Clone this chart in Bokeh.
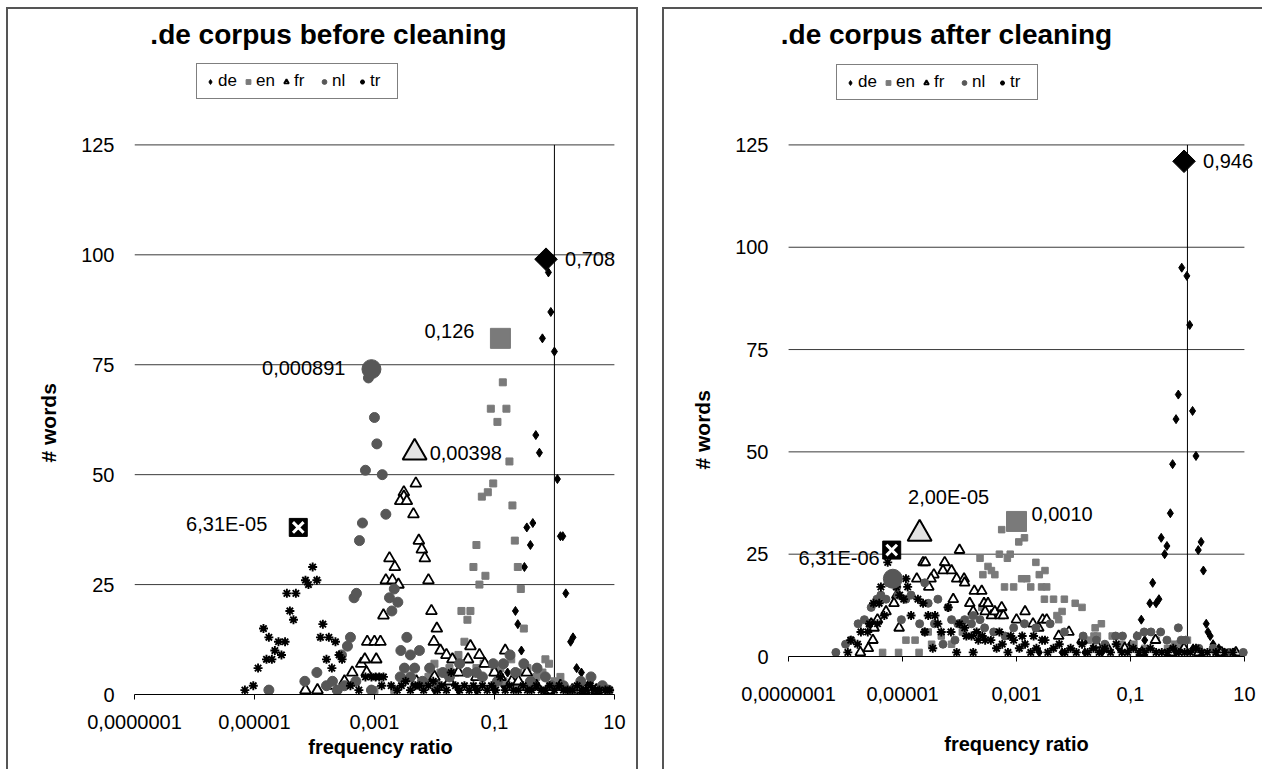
import numpy as np
from bokeh.plotting import figure
from bokeh.models import Legend, LegendItem, Label, FixedTicker, Range1d, Title
from bokeh.layouts import row
from bokeh.embed import file_html
from bokeh.resources import INLINE

FONT = "Liberation Sans"

# ---- data: (log10 of frequency ratio, # words) ----
# .de corpus before cleaning
de_before = [(-0.10, 96), (-0.06, 87), (-0.20, 81), (0.00, 78), (-0.31, 59), (-0.25, 55), (0.05, 49),
             (-0.46, 38), (-0.36, 39), (-0.40, 34), (-0.50, 29), (0.10, 36), (0.14, 36), (0.19, 23),
             (-0.65, 19), (-0.61, 16), (0.27, 12), (0.31, 13), (0.37, 6), (0.45, 5), (-0.55, 10),
             (-0.72, 3), (-0.85, 2), (0.55, 2), (0.65, 1), (0.75, 1), (-1.00, 1), (-1.30, 1), (-1.60, 1),
             (-2.00, 1), (0.85, 1), (0.60, 3), (-0.78, 5)]
en_before = [(-0.86, 71), (-1.06, 65), (-0.80, 65), (-0.95, 62), (-0.75, 53), (-1.02, 48), (-1.11, 46),
             (-1.21, 45), (-0.70, 43), (-1.30, 34), (-0.66, 35), (-1.35, 29), (-0.61, 29), (-1.15, 27),
             (-1.25, 25), (-0.56, 24), (-1.55, 19), (-1.40, 19), (-1.45, 17), (-0.51, 15), (-1.50, 12),
             (-1.60, 9), (-2.00, 7), (-0.09, 7), (-3.00, 1), (-2.67, 1), (-2.30, 2), (-2.10, 4), (-1.90, 5),
             (-1.75, 6), (-1.65, 5), (-1.30, 6), (-1.18, 7), (-1.00, 5), (-0.90, 6), (-0.72, 8), (-0.60, 5),
             (-0.45, 6), (-0.30, 4), (-0.15, 8), (0.00, 3), (0.15, 2), (0.30, 1), (0.50, 1), (0.70, 1),
             (-0.85, 3), (-0.40, 2), (-0.20, 5), (0.10, 4)]
fr_before = [(-4.15, 1), (-3.95, 1), (-3.70, 2), (-3.50, 3), (-3.37, 5), (-3.22, 7), (-3.13, 5), (-3.16, 8),
             (-2.97, 8), (-3.12, 12), (-3.00, 12), (-2.90, 12), (-2.85, 18), (-2.81, 26), (-2.70, 26),
             (-2.60, 25), (-2.75, 31), (-2.66, 29), (-2.51, 46), (-2.51, 45), (-2.57, 44), (-2.46, 44),
             (-2.31, 48), (-2.35, 41), (-2.26, 35), (-2.21, 33), (-2.16, 31), (-2.10, 26), (-2.05, 19),
             (-1.96, 15), (-2.01, 12), (-1.90, 10), (-1.80, 9), (-1.70, 8), (-1.44, 8), (-1.40, 11),
             (-1.25, 9), (-1.16, 7), (-0.82, 10), (-0.46, 5), (-0.71, 3), (-1.60, 5), (-1.30, 4), (-1.00, 5),
             (-0.90, 4), (-0.60, 3), (-0.30, 2), (-0.10, 1), (0.10, 2), (0.30, 1), (0.50, 1), (0.70, 1),
             (-2.30, 3), (-2.00, 4), (-1.75, 3)]
nl_before = [(-4.76, 1), (-4.16, 3), (-3.96, 5), (-3.80, 2), (-3.70, 3), (-3.62, 1), (-3.55, 9), (-3.45, 11),
             (-3.40, 13), (-3.34, 22), (-3.30, 23), (-3.31, 3), (-3.25, 35), (-3.20, 39), (-3.15, 51),
             (-3.10, 72), (-3.00, 63), (-2.96, 57), (-2.87, 50), (-2.81, 41), (-2.67, 24), (-2.75, 22),
             (-2.61, 21), (-2.71, 19), (-2.46, 13), (-2.56, 10), (-2.25, 10), (-2.40, 9), (-2.50, 6),
             (-2.33, 6), (-2.57, 4), (-2.40, 4), (-2.08, 6), (-1.86, 5), (-1.58, 7), (-1.30, 5), (-1.02, 7),
             (-0.85, 7), (-0.74, 9), (-0.51, 7), (-0.29, 6), (-0.15, 4), (0.44, 3), (0.61, 4), (-1.75, 4),
             (-1.45, 5), (-1.20, 4), (-0.95, 3), (-0.65, 5), (-0.40, 3), (-0.05, 2), (0.15, 2), (0.30, 1),
             (0.80, 2), (0.90, 1), (-2.20, 3), (-1.95, 2), (-3.05, 1), (-3.50, 2)]
tr_before = [(-5.16, 1), (-5.02, 2), (-4.94, 6), (-4.85, 15), (-4.80, 8), (-4.76, 13), (-4.71, 8), (-4.66, 10),
             (-4.60, 12), (-4.55, 9), (-4.49, 12), (-4.46, 23), (-4.41, 19), (-4.35, 17), (-4.31, 23),
             (-4.15, 26), (-4.10, 25), (-4.03, 29), (-3.96, 26), (-3.90, 13), (-3.86, 16), (-3.80, 8),
             (-3.76, 13), (-3.71, 6), (-3.65, 12), (-3.59, 9), (-3.54, 8), (-3.40, 2), (-3.26, 1), (-3.15, 4),
             (-3.05, 4), (-2.98, 4), (-2.92, 4), (-2.85, 4), (-2.88, 2), (-2.72, 2), (-2.62, 1), (-2.55, 2),
             (-2.48, 3), (-2.40, 1), (-2.32, 2), (-2.25, 2), (-2.18, 1), (-2.10, 2), (-2.02, 3), (-1.95, 1),
             (-1.88, 2), (-1.80, 1), (-1.72, 5), (-1.65, 2), (-1.58, 1), (-1.50, 2), (-1.42, 1), (-1.35, 2),
             (-1.28, 1), (-1.20, 2), (-1.12, 1), (-1.05, 2), (-0.98, 1), (-0.90, 4), (-0.82, 1), (-0.75, 2),
             (-0.68, 1), (-0.60, 1), (-0.52, 2), (-0.45, 1), (-0.38, 1), (-0.30, 2), (-0.22, 1), (-0.15, 1),
             (-0.08, 2), (0.00, 1), (0.08, 2), (0.15, 1), (0.22, 1), (0.30, 1), (0.38, 2), (0.45, 1),
             (0.52, 1), (0.60, 2), (0.68, 1), (0.75, 1), (0.85, 1), (0.92, 1)]
# highlighted maxima (log10 ratio, # words, data label)
peaks_before = {"de": (-0.14, 99, "0,708"), "en": (-0.90, 81, "0,126"), "fr": (-2.33, 55, "0,00398"),
                "nl": (-3.05, 74, "0,000891"), "tr": (-4.27, 38, "6,31E-05")}

# .de corpus after cleaning
de_after = [(-0.10, 95), (-0.01, 93), (0.04, 81), (-0.16, 64), (0.09, 60), (-0.20, 58), (0.15, 49), (-0.26, 47),
            (-0.30, 35), (-0.46, 29), (0.24, 28), (-0.36, 27), (0.19, 26), (-0.40, 25), (0.28, 21), (-0.61, 18),
            (-0.66, 13), (-0.55, 13), (-0.50, 14), (-0.81, 9), (0.33, 8), (0.36, 6), (0.40, 5), (0.45, 3),
            (0.55, 2), (0.65, 1), (0.80, 1), (-0.90, 5), (-1.00, 3), (-1.20, 2), (-1.50, 1), (-1.80, 1),
            (-2.20, 1), (-2.60, 1), (-0.75, 4), (0.10, 2), (-0.20, 1)]
en_after = [(-5.35, 1), (-5.07, 1), (-4.71, 1), (-4.94, 4), (-4.78, 4), (-4.55, 6), (-4.49, 3), (-4.32, 5),
            (-4.14, 3), (-3.95, 6), (-3.79, 10), (-3.64, 24), (-3.61, 12), (-3.59, 20), (-3.50, 22), (-3.44, 21),
            (-3.38, 20), (-3.30, 25), (-3.26, 31), (-3.21, 17), (-3.16, 24), (-3.11, 25), (-3.05, 17),
            (-2.96, 28), (-2.86, 29), (-2.91, 19), (-2.82, 19), (-2.75, 17), (-2.66, 23), (-2.60, 20),
            (-2.56, 17), (-2.50, 21), (-2.47, 17), (-2.51, 14), (-2.35, 14), (-2.16, 14), (-2.20, 11),
            (-2.29, 10), (-2.26, 9), (-1.97, 13), (-1.85, 12), (-1.74, 4), (-1.64, 5), (-1.58, 5), (-1.51, 8),
            (-1.62, 7), (-1.32, 5), (-1.15, 3), (-0.94, 3), (-0.75, 2), (-0.55, 4), (-0.35, 2), (-0.23, 3),
            (-0.14, 3), (-0.06, 4), (0.00, 4), (0.20, 1), (0.50, 1), (0.80, 1)]
fr_after = [(-5.74, 1), (-5.60, 2), (-5.52, 4), (-5.55, 8), (-5.50, 7), (-5.44, 9), (-5.29, 11), (-5.15, 13),
            (-5.10, 15), (-5.06, 7), (-4.75, 19), (-4.64, 23), (-4.60, 23), (-4.54, 17), (-4.45, 20),
            (-4.50, 19), (-4.26, 23), (-4.29, 21), (-4.14, 21), (-4.11, 14), (-4.05, 19), (-4.00, 26),
            (-3.92, 19), (-3.91, 18), (-3.82, 13), (-3.76, 11), (-3.74, 16), (-3.61, 16), (-3.57, 13),
            (-3.55, 11), (-3.50, 13), (-3.44, 10), (-3.38, 11), (-3.29, 10), (-3.26, 12), (-3.23, 10),
            (-3.00, 9), (-2.85, 11), (-2.71, 8), (-2.61, 7), (-2.54, 9), (-2.47, 9), (-2.26, 5), (-2.08, 6),
            (-1.85, 4), (-1.60, 3), (-1.40, 2), (-1.10, 2), (-0.80, 1), (-0.56, 4), (-0.30, 1), (-0.06, 2),
            (0.20, 1), (0.60, 1), (0.85, 1)]
nl_after = [(-6.17, 1), (-6.00, 3), (-5.90, 4), (-5.78, 8), (-5.67, 9), (-5.55, 12), (-5.45, 14), (-5.38, 15),
            (-5.29, 14), (-5.08, 15), (-4.94, 14), (-4.85, 15), (-5.02, 9), (-4.70, 8), (-4.61, 18), (-4.61, 6),
            (-4.55, 13), (-4.44, 8), (-4.38, 14), (-4.29, 3), (-4.20, 12), (-4.14, 9), (-4.08, 4), (-4.03, 8),
            (-3.91, 9), (-3.79, 8), (-3.76, 10), (-3.64, 9), (-3.56, 7), (-3.40, 6), (-3.20, 5), (-3.05, 7),
            (-2.86, 8), (-2.66, 7), (-2.41, 8), (-2.16, 6), (-1.83, 5), (-1.60, 4), (-1.45, 3), (-1.26, 5),
            (-1.14, 5), (-0.88, 5), (-0.76, 6), (-0.64, 6), (-0.47, 6), (-0.16, 7), (-0.11, 4), (-0.03, 4),
            (-0.36, 4), (0.20, 2), (0.45, 2), (0.73, 1), (0.98, 1), (-5.25, 18), (-5.10, 17)]
tr_after = [(-5.96, 1), (-5.91, 4), (-5.79, 3), (-5.73, 6), (-5.61, 6), (-5.58, 8), (-5.51, 13), (-5.44, 8),
            (-5.41, 13), (-5.38, 17), (-5.32, 10), (-5.26, 23), (-5.20, 19), (-5.11, 17), (-5.05, 15),
            (-4.98, 14), (-4.94, 19), (-4.91, 17), (-4.85, 10), (-4.73, 14), (-4.64, 13), (-4.61, 6),
            (-4.55, 10), (-4.47, 2), (-4.43, 10), (-4.38, 8), (-4.32, 6), (-4.20, 12), (-4.15, 6), (-4.05, 1),
            (-4.00, 8), (-3.91, 7), (-3.88, 5), (-3.79, 5), (-3.76, 1), (-3.70, 6), (-3.67, 4), (-3.60, 5),
            (-3.55, 4), (-3.45, 4), (-3.35, 2), (-3.30, 6), (-3.25, 3), (-3.15, 1), (-3.10, 5), (-3.05, 4),
            (-2.95, 2), (-2.90, 5), (-2.85, 3), (-2.75, 1), (-2.70, 5), (-2.65, 2), (-2.55, 4), (-2.50, 4),
            (-2.45, 1), (-2.35, 2), (-2.25, 3), (-2.15, 1), (-2.05, 2), (-1.95, 1), (-1.85, 3), (-1.75, 1),
            (-1.65, 2), (-1.55, 1), (-1.45, 2), (-1.35, 1), (-1.25, 3), (-1.15, 1), (-1.05, 1), (-0.95, 2),
            (-0.85, 1), (-0.75, 1), (-0.65, 2), (-0.55, 1), (-0.45, 1), (-0.35, 1), (-0.25, 2), (-0.15, 1),
            (-0.05, 1), (0.05, 1), (0.15, 2), (0.25, 1), (0.35, 1), (0.50, 1), (0.65, 1), (0.80, 1)]
peaks_after = {"de": (-0.06, 121, "0,946"), "en": (-3.00, 33, "0,0010"), "fr": (-4.70, 30, "2,00E-05"),
               "nl": (-5.17, 19, None), "tr": (-5.19, 26, "6,31E-06")}

y_ticks = [0, 25, 50, 75, 100, 125]
x_ticks = [1e-7, 1e-5, 1e-3, 0.1, 10]
x_tick_labels = ["0,0000001", "0,00001", "0,001", "0,1", "10"]
y_axis_crosses_at = 1  # vertical axis line position (frequency ratio)

DE_C, EN_C, NL_C = "#000000", "#7a7a7a", "#575757"


def xy(pairs):
    return [10 ** a for a, _ in pairs], [b for _, b in pairs]


def panel(title, data, peaks, cfg):
    # plot area of the reference (0..125, 1e-7..10) plus extra room above / left / right for texts
    fw, fh = cfg["fw"], cfg["fh"]
    top_px, left_px, right_px = cfg["top_px"], cfg["left_px"], cfg["right_px"]
    y_end = y_ticks[-1] + top_px * (y_ticks[-1] - y_ticks[0]) / fh
    dec = np.log10(x_ticks[-1]) - np.log10(x_ticks[0])
    x_end = x_ticks[-1] * 10 ** (right_px * dec / fw)
    x_start = x_ticks[0] / 10 ** (left_px * dec / fw)
    p = figure(x_axis_type="log", x_range=Range1d(x_start, x_end), y_range=Range1d(y_ticks[0], y_end),
               frame_width=fw + left_px + right_px, frame_height=fh + top_px,
               min_border_left=cfg["mbl"] - left_px, min_border_right=cfg["mbr"], min_border_top=0,
               min_border_bottom=cfg["mbb"], output_backend="svg", toolbar_location=None,
               background_fill_color="white", border_fill_color="white")
    p.outline_line_color = None
    p.xgrid.grid_line_color = None
    p.ygrid.grid_line_color = None

    # horizontal gridlines limited to the axis extent
    gy = y_ticks[1:]
    p.multi_line(xs=[[x_ticks[0], x_ticks[-1]] for _ in gy], ys=[[v, v] for v in gy],
                 line_color="#3a3a3a", line_width=1)
    # vertical axis line (crossing point of the value axis)
    p.segment(x0=[y_axis_crosses_at], y0=[y_ticks[0]], x1=[y_axis_crosses_at], y1=[y_ticks[-1]],
              line_color="black", line_width=1)

    xa = p.xaxis[0]
    xa.bounds = (x_ticks[0], x_ticks[-1])
    xa.ticker = FixedTicker(ticks=x_ticks)
    xa.major_label_overrides = {t: l for t, l in zip(x_ticks, x_tick_labels)}
    xa.axis_line_color = "black"
    xa.major_tick_line_color = "black"
    xa.major_tick_out = 5
    xa.major_tick_in = 0
    xa.minor_tick_line_color = None
    xa.major_label_standoff = cfg["xstand"]
    xa.major_label_text_font = FONT
    xa.major_label_text_font_size = "20px"
    xa.major_label_text_color = "black"
    xa.axis_label = "frequency ratio"
    xa.axis_label_text_font = FONT
    xa.axis_label_text_font_style = "bold"
    xa.axis_label_text_font_size = "20px"
    xa.axis_label_text_color = "black"
    xa.axis_label_standoff = cfg["xlab_stand"]

    ya = p.yaxis[0]
    ya.bounds = (y_ticks[0], y_ticks[-1])
    ya.ticker = FixedTicker(ticks=y_ticks)
    ya.axis_line_color = None
    ya.major_tick_line_color = None
    ya.major_tick_out = 0
    ya.major_tick_in = 0
    ya.minor_tick_line_color = None
    ya.minor_tick_out = 0
    ya.major_label_standoff = 20 - left_px
    ya.major_label_text_font = FONT
    ya.major_label_text_font_size = "20px"
    ya.major_label_text_color = "black"

    # value-axis title, placed beside the 0..125 part of the axis
    p.add_layout(Title(text="# words", align="left", offset=cfg["ylab_off"], vertical_align="bottom",
                       standoff=38, text_font=FONT, text_font_size="21px", text_font_style="bold",
                       text_color="black"), "left")

    x, y = xy(data["de"])
    r_de = p.scatter(x, y, marker="diamond", size=9, color=DE_C)
    x, y = xy(data["en"])
    r_en = p.scatter(x, y, marker="square", size=cfg["en_s"], color=EN_C)
    x, y = xy(data["fr"])
    r_fr = p.scatter(x, y, marker="triangle", size=cfg["fr_s"], fill_color="white",
                     line_color="black", line_width=1.8)
    x, y = xy(data["nl"])
    r_nl = p.scatter(x, y, marker="circle", size=cfg["nl_s"], color=NL_C)
    x, y = xy(data["tr"])
    r_tr = p.scatter(x, y, marker="asterisk", size=9, line_color="black", line_width=1.9)

    # highlighted maxima
    pk = peaks
    p.scatter([10 ** pk["de"][0]], [pk["de"][1]], marker="square", angle=np.pi / 4, size=16, color=DE_C)
    p.scatter([10 ** pk["en"][0]], [pk["en"][1]], marker="square", size=20, color=EN_C)
    p.scatter([10 ** pk["fr"][0]], [pk["fr"][1]], marker="triangle", size=24, fill_color="#e3e3e3",
              line_color="black", line_width=2)
    p.scatter([10 ** pk["nl"][0]], [pk["nl"][1]], marker="circle", size=19, color=NL_C)
    p.scatter([10 ** pk["tr"][0]], [pk["tr"][1]], marker="square", size=18, color="black")
    p.scatter([10 ** pk["tr"][0]], [pk["tr"][1]], marker="x", size=15, line_color="white", line_width=3)

    for name, (dx, dy, align) in cfg["label_off"].items():
        lx, ly, txt = pk[name]
        if txt is None:
            continue
        p.add_layout(Label(x=10 ** lx, y=ly, text=txt, x_offset=dx, y_offset=dy, text_align=align,
                           text_baseline="middle", text_font=FONT, text_font_size="20px",
                           text_color="black"))

    leg = Legend(items=[LegendItem(label="de", renderers=[r_de]),
                        LegendItem(label="en", renderers=[r_en]),
                        LegendItem(label="fr", renderers=[r_fr]),
                        LegendItem(label="nl", renderers=[r_nl]),
                        LegendItem(label="tr", renderers=[r_tr])],
                 orientation="horizontal", location=cfg["leg_loc"])
    leg.border_line_color = "black"
    leg.border_line_width = 1
    leg.background_fill_color = "white"
    leg.background_fill_alpha = 1
    leg.label_text_font = FONT
    leg.label_text_font_size = "17px"
    leg.label_text_color = "black"
    leg.glyph_width = 12
    leg.glyph_height = 15
    leg.label_standoff = 2
    leg.spacing = 4
    leg.padding = 7
    leg.margin = 0
    p.add_layout(leg, "center")

    p.add_layout(Label(x=cfg["title_xy"][0], y=cfg["title_xy"][1], x_units="screen", y_units="screen",
                       text=title, text_align="center", text_baseline="middle", text_font=FONT,
                       text_font_size="28px", text_font_style="bold", text_color="black"))
    return p


cfg_before = dict(fw=476, fh=548, top_px=135, left_px=0, right_px=12, mbl=126, mbr=14, mbb=77,
                  xstand=15, xlab_stand=4, en_s=7, fr_s=11, nl_s=10, ylab_off=232,
                  leg_loc=(62, 595), title_xy=(194, 660),
                  label_off={"de": (19, 0, "left"), "en": (-26, 7, "right"), "fr": (15, 0, "left"),
                             "nl": (-26, 1, "right"), "tr": (-31, 3, "right")})
cfg_after = dict(fw=454, fh=510, top_px=135, left_px=20, right_px=20, mbl=124, mbr=0, mbb=115,
                 xstand=25, xlab_stand=29, en_s=6.5, fr_s=10, nl_s=8, ylab_off=187,
                 leg_loc=(68, 556), title_xy=(178, 622),
                 label_off={"de": (19, 0, "left"), "en": (15, 7, "left"), "fr": (29, 37, "center"),
                            "nl": (0, 0, "left"), "tr": (-12, -8, "right")})

p1 = panel(".de corpus before cleaning",
           {"de": de_before, "en": en_before, "fr": fr_before, "nl": nl_before, "tr": tr_before},
           peaks_before, cfg_before)
p2 = panel(".de corpus after cleaning",
           {"de": de_after, "en": en_after, "fr": fr_after, "nl": nl_after, "tr": tr_after},
           peaks_after, cfg_after)
p1.styles = {"border-left": "2px solid #555555", "border-top": "2px solid #555555",
             "border-right": "2px solid #555555"}
p2.styles = {"border-left": "2px solid #555555", "border-top": "2px solid #555555"}

layout = row(p1, p2, spacing=24, styles={"margin-left": "6px", "margin-top": "7px"})
open("out.html", "w").write(file_html(layout, INLINE))
